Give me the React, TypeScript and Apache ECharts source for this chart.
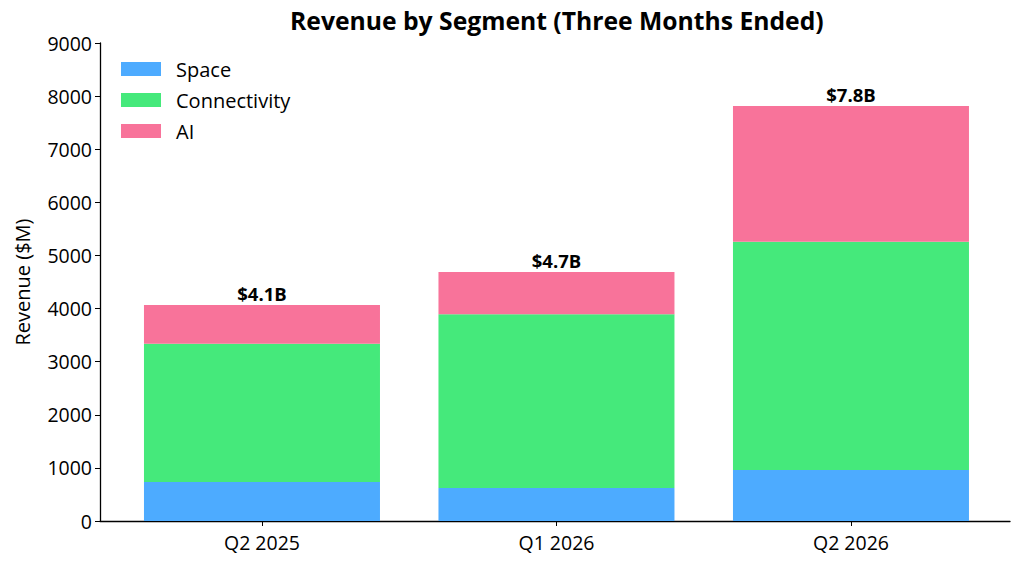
import React, { useEffect, useRef } from "react";
import * as echarts from "echarts";

const categories = ["Q2 2025", "Q1 2026", "Q2 2026"];
const space = [734, 621, 960];
const connectivity = [2604, 3271, 4299];
const ai = [729, 796, 2555];
const yTicks = [0, 1000, 2000, 3000, 4000, 5000, 6000, 7000, 8000, 9000];

const FONT = "'Open Sans', 'Noto Sans', sans-serif";

export default function App() {
  const ref = useRef<HTMLDivElement>(null);
  useEffect(() => {
    if (!ref.current) return;
    const chart = echarts.init(ref.current, null, { renderer: "svg" });
    const totals = categories.map((_, i) => space[i] + connectivity[i] + ai[i]);
    // value first so that the stacked dimension is the y value
    const toPts = (arr: number[]) => arr.map((v, i) => [v, i]);
    const barBase = {
      type: "bar",
      stack: "total",
      barWidth: 236,
      encode: { x: 1, y: 0 },
      dimensions: ["value", "pos"],
    };
    chart.setOption({
      animation: false,
      textStyle: { fontFamily: FONT },
      title: {
        text: "Revenue by Segment (Three Months Ended)",
        left: 290,
        top: 8,
        padding: 0,
        textStyle: { fontFamily: FONT, fontWeight: "bold", fontSize: 24.7, color: "#000" },
      },
      legend: {
        left: 121,
        top: 59,
        padding: 0,
        orient: "vertical",
        itemWidth: 40,
        itemHeight: 14,
        itemGap: 11,
        icon: "rect",
        textStyle: { fontFamily: FONT, fontSize: 20, color: "#000", padding: [0, 0, 0, 10] },
        data: ["Space", "Connectivity", "AI"],
      },
      grid: { left: 100, top: 43, right: 13, bottom: 47 },
      xAxis: {
        type: "value",
        min: -0.55,
        max: 2.54,
        splitLine: { show: false },
        axisLine: { show: true, onZero: false, lineStyle: { color: "#000", width: 1.3 } },
        axisTick: { show: true, length: 5, customValues: [0, 1, 2], lineStyle: { color: "#000" } },
        axisLabel: {
          customValues: [0, 1, 2],
          formatter: (v: number) => categories[Math.round(v)] ?? "",
          fontFamily: FONT,
          fontSize: 19.5,
          color: "#000",
          margin: 11,
        },
      },
      yAxis: {
        type: "value",
        min: 0,
        max: 9000,
        interval: 1000,
        name: "Revenue ($M)",
        nameLocation: "middle",
        nameGap: 68,
        nameTextStyle: { fontFamily: FONT, fontSize: 20, color: "#000" },
        splitLine: { show: false },
        axisLine: { show: true, onZero: false, lineStyle: { color: "#000", width: 1.3 } },
        axisTick: { show: true, length: 5, lineStyle: { color: "#000" } },
        axisLabel: {
          fontFamily: FONT,
          fontSize: 19.5,
          color: "#000",
          margin: 8,
          formatter: (v: number) => (yTicks.includes(v) ? String(v) : ""),
        },
      },
      series: [
        { ...barBase, name: "Space", itemStyle: { color: "#4dabff" }, data: toPts(space) },
        {
          ...barBase,
          name: "Connectivity",
          itemStyle: { color: "#45e97b" },
          data: toPts(connectivity),
        },
        {
          ...barBase,
          name: "AI",
          itemStyle: { color: "#f8739a" },
          label: {
            show: true,
            position: "top",
            distance: 2,
            fontFamily: FONT,
            fontWeight: "bold",
            fontSize: 18.5,
            color: "#000",
            formatter: (p: any) => "$" + (totals[p.dataIndex] / 1000).toFixed(1) + "B",
          },
          data: toPts(ai),
        },
      ],
    });
    return () => chart.dispose();
  }, []);
  return (
    <div
      ref={ref}
      style={{ position: "absolute", left: 0, top: 0, width: 1023, height: 568, background: "#fff" }}
    />
  );
}
